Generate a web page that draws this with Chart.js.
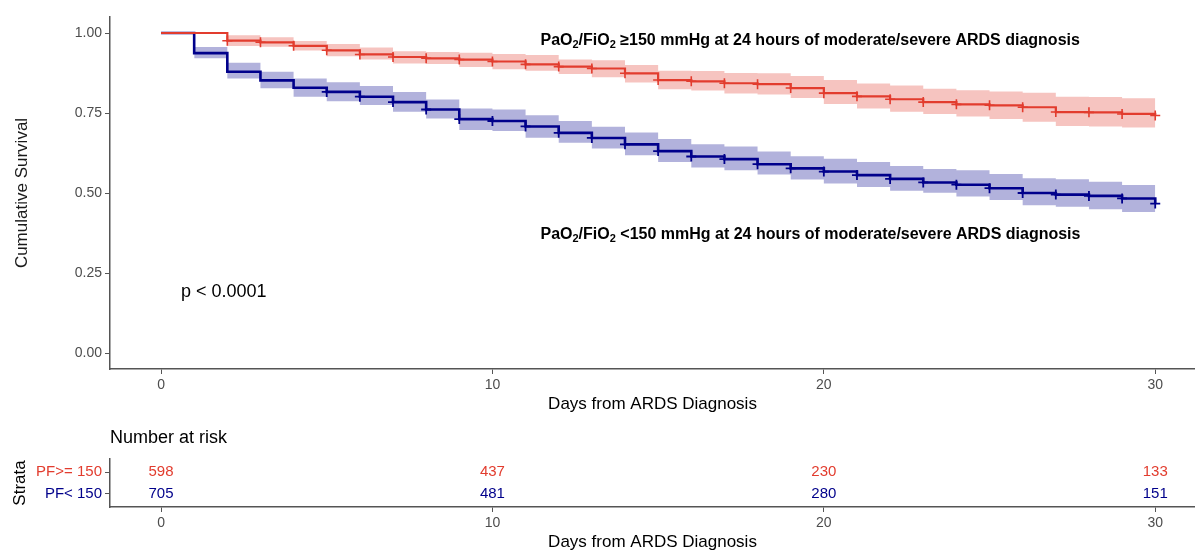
<!DOCTYPE html>
<html lang="en">
<head>
<meta charset="UTF-8">
<title>Survival by PaO2/FiO2 at 24 hours</title>
<script src="https://cdn.jsdelivr.net/npm/chart.js"></script>
<style>
  body { margin: 0; overflow: hidden; background: #fff; }
  canvas { display: block; }
</style>
</head>
<body>
<canvas id="kmChart" width="1195" height="420"></canvas>
<canvas id="riskChart" width="1195" height="140"></canvas>
<script>
// days since ARDS diagnosis
const days = [0,1,2,3,4,5,6,7,8,9,10,11,12,13,14,15,16,17,18,19,20,21,22,23,24,25,26,27,28,29,30];

// PF >= 150
const survHigh  = [1.000,1.000,0.976,0.971,0.960,0.946,0.933,0.925,0.921,0.917,0.911,0.902,0.895,0.889,0.874,0.853,0.849,0.843,0.840,0.828,0.812,0.802,0.793,0.784,0.777,0.774,0.768,0.753,0.752,0.747,0.742];
const upperHigh = [null,null,0.993,0.987,0.975,0.966,0.955,0.943,0.941,0.938,0.934,0.931,0.917,0.915,0.900,0.882,0.881,0.875,0.874,0.866,0.853,0.842,0.836,0.826,0.821,0.817,0.813,0.801,0.800,0.796,0.796];
const lowerHigh = [null,null,0.959,0.957,0.945,0.927,0.917,0.905,0.903,0.894,0.887,0.882,0.872,0.862,0.845,0.824,0.820,0.811,0.808,0.797,0.778,0.764,0.754,0.747,0.739,0.731,0.723,0.709,0.708,0.705,0.705];
const censorHigh = [2,3,4,5,6,7,8,9,10,11,12,13,14,15,16,17,18,19,20,21,22,23,24,25,26,27,28,29,30];

// PF < 150
const survLow  = [1.000,0.937,0.879,0.852,0.829,0.816,0.801,0.784,0.761,0.731,0.725,0.708,0.688,0.672,0.652,0.631,0.614,0.606,0.590,0.577,0.567,0.556,0.544,0.533,0.526,0.515,0.500,0.495,0.491,0.483,0.467];
const upperLow = [null,0.956,0.907,0.879,0.858,0.846,0.834,0.816,0.792,0.764,0.761,0.743,0.725,0.707,0.689,0.669,0.652,0.645,0.630,0.615,0.607,0.597,0.584,0.575,0.571,0.559,0.546,0.543,0.535,0.525,0.525];
const lowerLow = [null,0.921,0.858,0.827,0.801,0.787,0.775,0.754,0.733,0.697,0.694,0.673,0.657,0.639,0.618,0.597,0.580,0.571,0.558,0.542,0.530,0.519,0.507,0.501,0.489,0.478,0.462,0.457,0.449,0.441,0.441];
const censorLow = [5,6,7,8,9,10,11,12,13,14,15,16,17,18,19,20,21,22,23,24,25,26,27,28,29,30];

// number at risk table
const riskDays = [0, 10, 20, 30];
const riskHigh = [598, 437, 230, 133];
const riskLow  = [705, 481, 280, 151];
const strataLabels = ['PF>= 150', 'PF< 150'];

const xTicks = [0, 10, 20, 30];
const yTicks = [0, 0.25, 0.5, 0.75, 1];

const RED = '#E23C2E';
const BLUE = '#00008B';
const FONT = '"Liberation Sans", Arial, sans-serif';
const TICK_GREY = '#4d4d4d';
const AXIS_GREY = '#555555';

Chart.defaults.font.family = FONT;
Chart.defaults.animation = false;

const pts = (ys) => days.map((d, i) => ({ x: d, y: ys[i] }));
const censorPts = (list, ys) => list.map(d => ({ x: d, y: ys[days.indexOf(d)] }));

function band(ys, color, fill) {
  return {
    data: pts(ys), stepped: true, borderWidth: 0, pointRadius: 0,
    backgroundColor: color, fill: fill, order: 2
  };
}

// text with subscript runs
function drawRuns(ctx, px, py, runs, weight, size) {
  let cx = px;
  runs.forEach(r => {
    ctx.font = `${weight} ${r.sub ? Math.round(size * 0.7) : size}px ${FONT}`;
    ctx.fillText(r.t, cx, py + (r.sub ? 4 : 0));
    cx += ctx.measureText(r.t).width;
  });
}

const labelHigh = [{ t: 'PaO' }, { t: '2', sub: true }, { t: '/FiO' }, { t: '2', sub: true }, { t: ' \u2265150 mmHg at 24 hours of moderate/severe ARDS diagnosis' }];
const labelLow = [{ t: 'PaO' }, { t: '2', sub: true }, { t: '/FiO' }, { t: '2', sub: true }, { t: ' <150 mmHg at 24 hours of moderate/severe ARDS diagnosis' }];

const notes = {
  id: 'notes',
  afterDatasetsDraw(chart) {
    const { ctx, scales: { x, y } } = chart;
    ctx.save();
    ctx.fillStyle = '#000';
    ctx.textBaseline = 'middle';
    ctx.textAlign = 'left';
    drawRuns(ctx, x.getPixelForValue(11.45), y.getPixelForValue(0.975), labelHigh, 'bold', 16);
    drawRuns(ctx, x.getPixelForValue(11.45), y.getPixelForValue(0.37), labelLow, 'bold', 16);
    drawRuns(ctx, x.getPixelForValue(0.6), y.getPixelForValue(0.19), [{ t: 'p < 0.0001' }], 'normal', 18);
    ctx.restore();
  }
};

const xAxis = (height, titlePad) => ({
  type: 'linear', min: -1.54, max: 31.2,
  afterBuildTicks: s => { s.ticks = xTicks.map(v => ({ value: v })); },
  afterFit: s => { s.height = height; },
  grid: { drawOnChartArea: false, drawTicks: true, tickLength: 5, color: AXIS_GREY, lineWidth: 1 },
  border: { display: true, color: AXIS_GREY, width: 1.5 },
  ticks: { color: TICK_GREY, font: { size: 14 }, padding: 3, maxRotation: 0 },
  title: { display: true, text: 'Days from ARDS Diagnosis', color: '#000', font: { size: 17 }, padding: { top: 0, bottom: titlePad } }
});

new Chart(document.getElementById('kmChart'), {
  type: 'line',
  data: {
    datasets: [
      band(upperHigh, 'rgba(226,60,46,0.3)', false),
      band(lowerHigh, 'rgba(226,60,46,0.3)', '-1'),
      band(upperLow, 'rgba(0,0,139,0.3)', false),
      band(lowerLow, 'rgba(0,0,139,0.3)', '-1'),
      { data: pts(survHigh), stepped: true, borderColor: RED, borderWidth: 2.2, pointRadius: 0, fill: false, order: 1 },
      { data: pts(survLow), stepped: true, borderColor: BLUE, borderWidth: 2.6, pointRadius: 0, fill: false, order: 1 },
      { data: censorPts(censorHigh, survHigh), showLine: false, pointStyle: 'cross', pointRadius: 5, pointBorderWidth: 1.6, borderColor: RED, order: 0 },
      { data: censorPts(censorLow, survLow), showLine: false, pointStyle: 'cross', pointRadius: 5, pointBorderWidth: 1.8, borderColor: BLUE, order: 0 }
    ]
  },
  options: {
    responsive: false,
    layout: { autoPadding: false, padding: { top: 17, right: 0, bottom: 0, left: 0 } },
    plugins: { legend: { display: false }, tooltip: { enabled: false } },
    scales: {
      x: xAxis(51, 5),
      y: {
        type: 'linear', min: -0.05, max: 1.05,
        afterBuildTicks: s => { s.ticks = yTicks.map(v => ({ value: v })); },
        afterFit: s => { s.width = 110; },
        grid: { drawOnChartArea: false, drawTicks: true, tickLength: 5, color: AXIS_GREY, lineWidth: 1 },
        border: { display: true, color: AXIS_GREY, width: 1.5 },
        ticks: { color: TICK_GREY, font: { size: 14 }, padding: 3, callback: v => v.toFixed(2) },
        title: { display: true, text: 'Cumulative Survival', color: '#1a1a1a', font: { size: 17 }, padding: { top: 12, bottom: 0 } }
      }
    }
  },
  plugins: [notes]
});

// number at risk table
const riskText = {
  id: 'riskText',
  afterDatasetsDraw(chart) {
    const { ctx, chartArea } = chart;
    ctx.save();
    ctx.textBaseline = 'middle';
    ctx.textAlign = 'left';
    ctx.fillStyle = '#000';
    ctx.font = `18px ${FONT}`;
    ctx.fillText('Number at risk', chartArea.left, 18);
    ctx.textAlign = 'center';
    ctx.font = `15px ${FONT}`;
    chart.data.datasets.forEach((ds, di) => {
      ctx.fillStyle = ds.textColor;
      chart.getDatasetMeta(di).data.forEach((pt, i) => {
        ctx.fillText(String(ds.counts[i]), pt.x, pt.y);
      });
    });
    ctx.restore();
  }
};

new Chart(document.getElementById('riskChart'), {
  type: 'scatter',
  data: {
    datasets: [
      { data: riskDays.map(d => ({ x: d, y: 1 })), counts: riskHigh, textColor: RED, pointRadius: 0 },
      { data: riskDays.map(d => ({ x: d, y: 2 })), counts: riskLow, textColor: BLUE, pointRadius: 0 }
    ]
  },
  options: {
    responsive: false,
    layout: { autoPadding: false, padding: { top: 39, right: 0, bottom: 0, left: 0 } },
    plugins: { legend: { display: false }, tooltip: { enabled: false } },
    scales: {
      x: xAxis(53, 7),
      y: {
        type: 'linear', min: 0.4, max: 2.6, reverse: true,
        afterBuildTicks: s => { s.ticks = [1, 2].map(v => ({ value: v })); },
        afterFit: s => { s.width = 110; },
        grid: { drawOnChartArea: false, drawTicks: true, tickLength: 5, color: AXIS_GREY, lineWidth: 1 },
        border: { display: true, color: AXIS_GREY, width: 1.5 },
        ticks: { color: c => (c.index === 0 ? RED : BLUE), font: { size: 15 }, padding: 3, callback: (v, i) => strataLabels[i] },
        title: { display: true, text: 'Strata', color: '#000', font: { size: 17 }, padding: { top: 10, bottom: 0 } }
      }
    }
  },
  plugins: [riskText]
});
</script>
</body>
</html>
